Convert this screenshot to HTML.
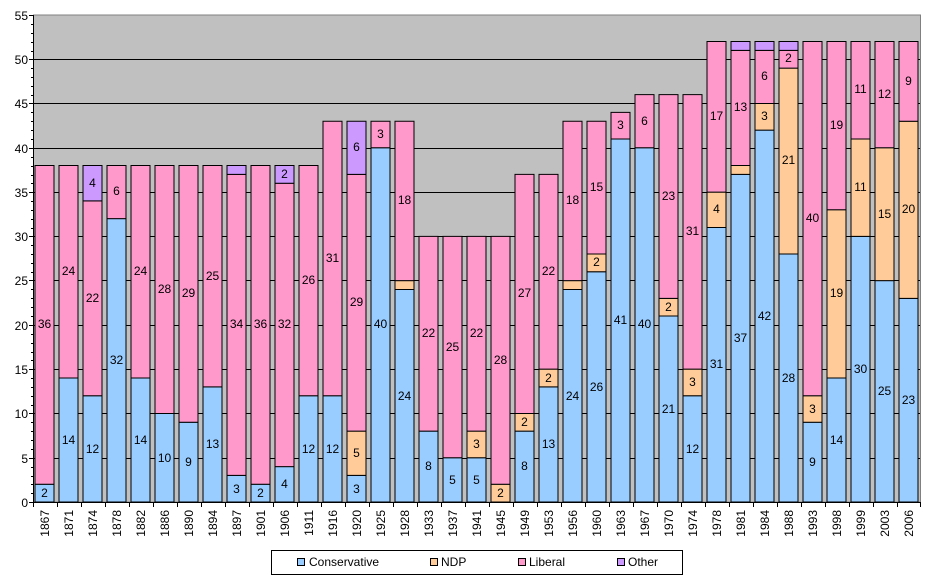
<!DOCTYPE html>
<html><head><meta charset="utf-8"><style>
html,body{margin:0;padding:0;background:#fff;}
svg{display:block;font-family:"Liberation Sans",Arial,sans-serif;}
.b rect{stroke:#000;stroke-width:1;vector-effect:non-scaling-stroke;}
.C{fill:#99CCFF}.N{fill:#FFCC99}.L{fill:#FF99CC}.O{fill:#CC99FF}
.t text{font-size:12px;text-anchor:middle;}
.x text{font-size:12px;text-anchor:end;}
.y text{font-size:12px;text-anchor:end;}
</style></head><body>
<svg width="949" height="583" viewBox="0 0 949 583">
<rect x="33.5" y="15" width="887" height="487" fill="#C0C0C0" stroke="#808080"/>
<g stroke="#000" stroke-width="1">
<line x1="34" x2="920" y1="59.5" y2="59.5"/><line x1="34" x2="920" y1="103.5" y2="103.5"/><line x1="34" x2="920" y1="148.5" y2="148.5"/><line x1="34" x2="920" y1="192.5" y2="192.5"/><line x1="34" x2="920" y1="236.5" y2="236.5"/><line x1="34" x2="920" y1="280.5" y2="280.5"/><line x1="34" x2="920" y1="325.5" y2="325.5"/><line x1="34" x2="920" y1="369.5" y2="369.5"/><line x1="34" x2="920" y1="413.5" y2="413.5"/><line x1="34" x2="920" y1="458.5" y2="458.5"/>
</g>
<g class="b" transform="matrix(1,0,0,-8.855,0,502)">
<rect class="C" x="35" y="0" width="19" height="2"/><rect class="L" x="35" y="2" width="19" height="36"/>
<rect class="C" x="59" y="0" width="19" height="14"/><rect class="L" x="59" y="14" width="19" height="24"/>
<rect class="C" x="83" y="0" width="19" height="12"/><rect class="L" x="83" y="12" width="19" height="22"/><rect class="O" x="83" y="34" width="19" height="4"/>
<rect class="C" x="107" y="0" width="19" height="32"/><rect class="L" x="107" y="32" width="19" height="6"/>
<rect class="C" x="131" y="0" width="19" height="14"/><rect class="L" x="131" y="14" width="19" height="24"/>
<rect class="C" x="155" y="0" width="19" height="10"/><rect class="L" x="155" y="10" width="19" height="28"/>
<rect class="C" x="179" y="0" width="19" height="9"/><rect class="L" x="179" y="9" width="19" height="29"/>
<rect class="C" x="203" y="0" width="19" height="13"/><rect class="L" x="203" y="13" width="19" height="25"/>
<rect class="C" x="227" y="0" width="19" height="3"/><rect class="L" x="227" y="3" width="19" height="34"/><rect class="O" x="227" y="37" width="19" height="1"/>
<rect class="C" x="251" y="0" width="19" height="2"/><rect class="L" x="251" y="2" width="19" height="36"/>
<rect class="C" x="275" y="0" width="19" height="4"/><rect class="L" x="275" y="4" width="19" height="32"/><rect class="O" x="275" y="36" width="19" height="2"/>
<rect class="C" x="299" y="0" width="19" height="12"/><rect class="L" x="299" y="12" width="19" height="26"/>
<rect class="C" x="323" y="0" width="19" height="12"/><rect class="L" x="323" y="12" width="19" height="31"/>
<rect class="C" x="347" y="0" width="19" height="3"/><rect class="N" x="347" y="3" width="19" height="5"/><rect class="L" x="347" y="8" width="19" height="29"/><rect class="O" x="347" y="37" width="19" height="6"/>
<rect class="C" x="371" y="0" width="19" height="40"/><rect class="L" x="371" y="40" width="19" height="3"/>
<rect class="C" x="395" y="0" width="19" height="24"/><rect class="N" x="395" y="24" width="19" height="1"/><rect class="L" x="395" y="25" width="19" height="18"/>
<rect class="C" x="419" y="0" width="19" height="8"/><rect class="L" x="419" y="8" width="19" height="22"/>
<rect class="C" x="443" y="0" width="19" height="5"/><rect class="L" x="443" y="5" width="19" height="25"/>
<rect class="C" x="467" y="0" width="19" height="5"/><rect class="N" x="467" y="5" width="19" height="3"/><rect class="L" x="467" y="8" width="19" height="22"/>
<rect class="N" x="491" y="0" width="19" height="2"/><rect class="L" x="491" y="2" width="19" height="28"/>
<rect class="C" x="515" y="0" width="19" height="8"/><rect class="N" x="515" y="8" width="19" height="2"/><rect class="L" x="515" y="10" width="19" height="27"/>
<rect class="C" x="539" y="0" width="19" height="13"/><rect class="N" x="539" y="13" width="19" height="2"/><rect class="L" x="539" y="15" width="19" height="22"/>
<rect class="C" x="563" y="0" width="19" height="24"/><rect class="N" x="563" y="24" width="19" height="1"/><rect class="L" x="563" y="25" width="19" height="18"/>
<rect class="C" x="587" y="0" width="19" height="26"/><rect class="N" x="587" y="26" width="19" height="2"/><rect class="L" x="587" y="28" width="19" height="15"/>
<rect class="C" x="611" y="0" width="19" height="41"/><rect class="L" x="611" y="41" width="19" height="3"/>
<rect class="C" x="635" y="0" width="19" height="40"/><rect class="L" x="635" y="40" width="19" height="6"/>
<rect class="C" x="659" y="0" width="19" height="21"/><rect class="N" x="659" y="21" width="19" height="2"/><rect class="L" x="659" y="23" width="19" height="23"/>
<rect class="C" x="683" y="0" width="19" height="12"/><rect class="N" x="683" y="12" width="19" height="3"/><rect class="L" x="683" y="15" width="19" height="31"/>
<rect class="C" x="707" y="0" width="19" height="31"/><rect class="N" x="707" y="31" width="19" height="4"/><rect class="L" x="707" y="35" width="19" height="17"/>
<rect class="C" x="731" y="0" width="19" height="37"/><rect class="N" x="731" y="37" width="19" height="1"/><rect class="L" x="731" y="38" width="19" height="13"/><rect class="O" x="731" y="51" width="19" height="1"/>
<rect class="C" x="755" y="0" width="19" height="42"/><rect class="N" x="755" y="42" width="19" height="3"/><rect class="L" x="755" y="45" width="19" height="6"/><rect class="O" x="755" y="51" width="19" height="1"/>
<rect class="C" x="779" y="0" width="19" height="28"/><rect class="N" x="779" y="28" width="19" height="21"/><rect class="L" x="779" y="49" width="19" height="2"/><rect class="O" x="779" y="51" width="19" height="1"/>
<rect class="C" x="803" y="0" width="19" height="9"/><rect class="N" x="803" y="9" width="19" height="3"/><rect class="L" x="803" y="12" width="19" height="40"/>
<rect class="C" x="827" y="0" width="19" height="14"/><rect class="N" x="827" y="14" width="19" height="19"/><rect class="L" x="827" y="33" width="19" height="19"/>
<rect class="C" x="851" y="0" width="19" height="30"/><rect class="N" x="851" y="30" width="19" height="11"/><rect class="L" x="851" y="41" width="19" height="11"/>
<rect class="C" x="875" y="0" width="19" height="25"/><rect class="N" x="875" y="25" width="19" height="15"/><rect class="L" x="875" y="40" width="19" height="12"/>
<rect class="C" x="899" y="0" width="19" height="23"/><rect class="N" x="899" y="23" width="19" height="20"/><rect class="L" x="899" y="43" width="19" height="9"/>
</g>
<g class="t">
<text x="44.5" y="497">2</text><text x="44.5" y="328">36</text>
<text x="68.5" y="444">14</text><text x="68.5" y="275">24</text>
<text x="92.5" y="453">12</text><text x="92.5" y="302">22</text><text x="92.5" y="187">4</text>
<text x="116.5" y="364">32</text><text x="116.5" y="195">6</text>
<text x="140.5" y="444">14</text><text x="140.5" y="275">24</text>
<text x="164.5" y="462">10</text><text x="164.5" y="293">28</text>
<text x="188.5" y="466">9</text><text x="188.5" y="297">29</text>
<text x="212.5" y="448">13</text><text x="212.5" y="280">25</text>
<text x="236.5" y="493">3</text><text x="236.5" y="328">34</text>
<text x="260.5" y="497">2</text><text x="260.5" y="328">36</text>
<text x="284.5" y="488">4</text><text x="284.5" y="328">32</text><text x="284.5" y="178">2</text>
<text x="308.5" y="453">12</text><text x="308.5" y="284">26</text>
<text x="332.5" y="453">12</text><text x="332.5" y="262">31</text>
<text x="356.5" y="493">3</text><text x="356.5" y="457">5</text><text x="356.5" y="306">29</text><text x="356.5" y="151">6</text>
<text x="380.5" y="328">40</text><text x="380.5" y="138">3</text>
<text x="404.5" y="400">24</text><text x="404.5" y="204">18</text>
<text x="428.5" y="470">8</text><text x="428.5" y="337">22</text>
<text x="452.5" y="484">5</text><text x="452.5" y="351">25</text>
<text x="476.5" y="484">5</text><text x="476.5" y="448">3</text><text x="476.5" y="337">22</text>
<text x="500.5" y="497">2</text><text x="500.5" y="364">28</text>
<text x="524.5" y="470">8</text><text x="524.5" y="426">2</text><text x="524.5" y="297">27</text>
<text x="548.5" y="448">13</text><text x="548.5" y="382">2</text><text x="548.5" y="275">22</text>
<text x="572.5" y="400">24</text><text x="572.5" y="204">18</text>
<text x="596.5" y="391">26</text><text x="596.5" y="266">2</text><text x="596.5" y="191">15</text>
<text x="620.5" y="324">41</text><text x="620.5" y="129">3</text>
<text x="644.5" y="328">40</text><text x="644.5" y="125">6</text>
<text x="668.5" y="413">21</text><text x="668.5" y="311">2</text><text x="668.5" y="200">23</text>
<text x="692.5" y="453">12</text><text x="692.5" y="386">3</text><text x="692.5" y="235">31</text>
<text x="716.5" y="368">31</text><text x="716.5" y="213">4</text><text x="716.5" y="120">17</text>
<text x="740.5" y="342">37</text><text x="740.5" y="111">13</text>
<text x="764.5" y="320">42</text><text x="764.5" y="120">3</text><text x="764.5" y="80">6</text>
<text x="788.5" y="382">28</text><text x="788.5" y="164">21</text><text x="788.5" y="62">2</text>
<text x="812.5" y="466">9</text><text x="812.5" y="413">3</text><text x="812.5" y="222">40</text>
<text x="836.5" y="444">14</text><text x="836.5" y="297">19</text><text x="836.5" y="129">19</text>
<text x="860.5" y="373">30</text><text x="860.5" y="191">11</text><text x="860.5" y="93">11</text>
<text x="884.5" y="395">25</text><text x="884.5" y="218">15</text><text x="884.5" y="98">12</text>
<text x="908.5" y="404">23</text><text x="908.5" y="213">20</text><text x="908.5" y="85">9</text>
</g>
<g stroke="#000">
<line x1="33.5" y1="15" x2="33.5" y2="502"/>
<line x1="33.5" y1="502.5" x2="920" y2="502.5"/>
<path d="M29 15.5H34M29 59.5H34M29 103.5H34M29 148.5H34M29 192.5H34M29 236.5H34M29 280.5H34M29 325.5H34M29 369.5H34M29 413.5H34M29 458.5H34M29 502.5H34"/>
<path d="M31 24.5H34M31 33.5H34M31 42.5H34M31 51.5H34M31 68.5H34M31 77.5H34M31 86.5H34M31 95.5H34M31 112.5H34M31 121.5H34M31 130.5H34M31 139.5H34M31 157.5H34M31 166.5H34M31 175.5H34M31 183.5H34M31 201.5H34M31 210.5H34M31 219.5H34M31 228.5H34M31 245.5H34M31 254.5H34M31 263.5H34M31 272.5H34M31 289.5H34M31 298.5H34M31 307.5H34M31 316.5H34M31 334.5H34M31 343.5H34M31 352.5H34M31 360.5H34M31 378.5H34M31 387.5H34M31 396.5H34M31 405.5H34M31 422.5H34M31 431.5H34M31 440.5H34M31 449.5H34M31 467.5H34M31 476.5H34M31 484.5H34M31 493.5H34"/>
<path d="M33.5 502V507M57.5 502V507M81.5 502V507M105.5 502V507M129.5 502V507M153.5 502V507M177.5 502V507M201.5 502V507M225.5 502V507M249.5 502V507M273.5 502V507M297.5 502V507M321.5 502V507M345.5 502V507M369.5 502V507M393.5 502V507M417.5 502V507M441.5 502V507M465.5 502V507M489.5 502V507M513.5 502V507M537.5 502V507M561.5 502V507M585.5 502V507M609.5 502V507M633.5 502V507M657.5 502V507M681.5 502V507M705.5 502V507M729.5 502V507M753.5 502V507M777.5 502V507M801.5 502V507M825.5 502V507M849.5 502V507M873.5 502V507M897.5 502V507M920.5 502V507"/>
</g>
<g class="y">
<text x="28" y="20">55</text><text x="28" y="64">50</text><text x="28" y="108">45</text><text x="28" y="153">40</text><text x="28" y="197">35</text><text x="28" y="241">30</text><text x="28" y="285">25</text><text x="28" y="330">20</text><text x="28" y="374">15</text><text x="28" y="418">10</text><text x="28" y="463">5</text><text x="28" y="507">0</text>
</g>
<g class="x">
<text transform="translate(49,510) rotate(-90)">1867</text><text transform="translate(73,510) rotate(-90)">1871</text><text transform="translate(97,510) rotate(-90)">1874</text><text transform="translate(121,510) rotate(-90)">1878</text><text transform="translate(145,510) rotate(-90)">1882</text><text transform="translate(169,510) rotate(-90)">1886</text><text transform="translate(193,510) rotate(-90)">1890</text><text transform="translate(217,510) rotate(-90)">1894</text><text transform="translate(241,510) rotate(-90)">1897</text><text transform="translate(265,510) rotate(-90)">1901</text><text transform="translate(289,510) rotate(-90)">1906</text><text transform="translate(313,510) rotate(-90)">1911</text><text transform="translate(337,510) rotate(-90)">1916</text><text transform="translate(361,510) rotate(-90)">1920</text><text transform="translate(385,510) rotate(-90)">1925</text><text transform="translate(409,510) rotate(-90)">1928</text><text transform="translate(433,510) rotate(-90)">1933</text><text transform="translate(457,510) rotate(-90)">1937</text><text transform="translate(481,510) rotate(-90)">1941</text><text transform="translate(505,510) rotate(-90)">1945</text><text transform="translate(529,510) rotate(-90)">1949</text><text transform="translate(553,510) rotate(-90)">1953</text><text transform="translate(577,510) rotate(-90)">1956</text><text transform="translate(601,510) rotate(-90)">1960</text><text transform="translate(625,510) rotate(-90)">1963</text><text transform="translate(649,510) rotate(-90)">1967</text><text transform="translate(673,510) rotate(-90)">1970</text><text transform="translate(697,510) rotate(-90)">1974</text><text transform="translate(721,510) rotate(-90)">1978</text><text transform="translate(745,510) rotate(-90)">1981</text><text transform="translate(769,510) rotate(-90)">1984</text><text transform="translate(793,510) rotate(-90)">1988</text><text transform="translate(817,510) rotate(-90)">1993</text><text transform="translate(841,510) rotate(-90)">1998</text><text transform="translate(865,510) rotate(-90)">1999</text><text transform="translate(889,510) rotate(-90)">2003</text><text transform="translate(913,510) rotate(-90)">2006</text>
</g>
<rect x="271.5" y="550.5" width="411" height="24" fill="#fff" stroke="#000"/>
<g stroke="#000" font-size="12">
<rect x="297.5" y="558.5" width="7" height="7" class="C"/>
<rect x="430.5" y="558.5" width="7" height="7" class="N"/>
<rect x="518.5" y="558.5" width="7" height="7" class="L"/>
<rect x="617.5" y="558.5" width="7" height="7" class="O"/>
</g>
<g font-size="12">
<text x="309" y="566">Conservative</text>
<text x="441" y="566">NDP</text>
<text x="529" y="566">Liberal</text>
<text x="628" y="566">Other</text>
</g>
</svg>
</body></html>
